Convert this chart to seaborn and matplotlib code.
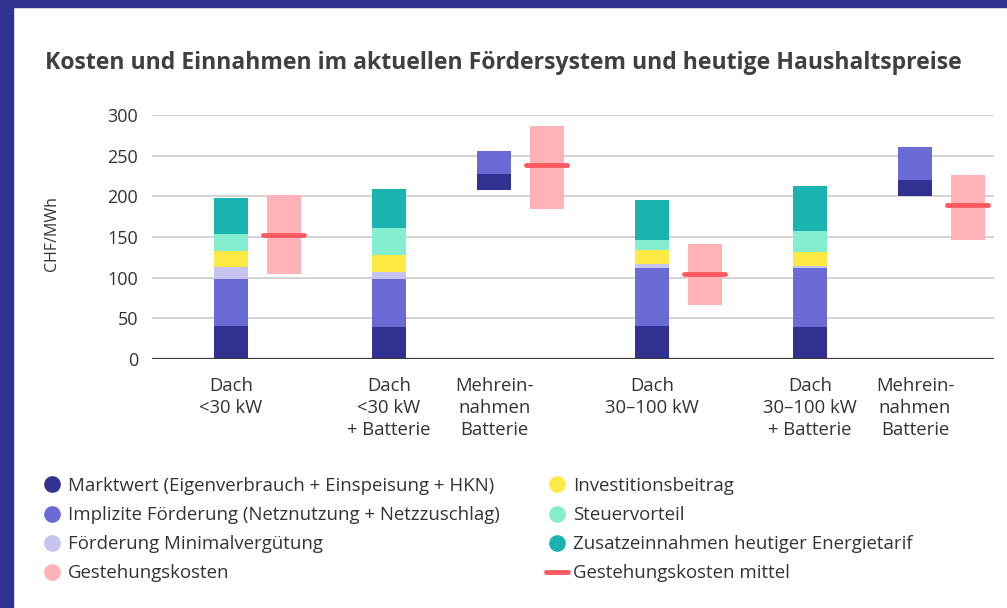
import numpy as np
import matplotlib
matplotlib.use("Agg")
import matplotlib.pyplot as plt
from matplotlib.lines import Line2D
from matplotlib.patches import Rectangle
import seaborn as sns

# Kategorien (x-Achse)
CATEGORIES = ["Dach\n<30 kW", "Dach\n<30 kW\n+ Batterie", "Mehrein-\nnahmen\nBatterie",
              "Dach\n30–100 kW", "Dach\n30–100 kW\n+ Batterie", "Mehrein-\nnahmen\nBatterie"]

# Einnahmen, gestapelt (CHF/MWh)
base = [0, 0, 208, 0, 0, 200]
marktwert = [41, 39, 19.5, 41, 39, 20]
implizit = [57.5, 59, 28, 71, 72.5, 40.5]
minimal = [15, 8.5, 0, 5, 2.5, 0]
invest = [19.5, 21, 0, 17, 17.5, 0]
steuer = [21, 33, 0, 12, 26, 0]
zusatz = [44, 48, 0, 49, 55, 0]

# Gestehungskosten (nur neben Kategorien 0, 2, 3, 5)
gest_cat = [0, 2, 3, 5]
gest_min = [104, 185, 66, 146]
gest_max = [202, 287, 141, 226]
gest_mean = [153, 238, 104, 189]

LAYERS = [
    ("Marktwert (Eigenverbrauch + Einspeisung + HKN)", marktwert, "#313192"),
    ("Implizite Förderung (Netznutzung + Netzzuschlag)", implizit, "#6b6bd6"),
    ("Förderung Minimalvergütung", minimal, "#c6c4ee"),
    ("Investitionsbeitrag", invest, "#ffea45"),
    ("Steuervorteil", steuer, "#84eecf"),
    ("Zusatzeinnahmen heutiger Energietarif", zusatz, "#1bb3b0"),
]
GEST_COLOR = "#ffb3b7"
MEAN_COLOR = "#ff5a62"
BORDER = "#313192"
TEXT = "#333333"

# Layout: Slots auf der kategorialen Achse
stack_pos = [0, 3, 5, 8, 11, 13]
gest_pos = [stack_pos[i] + 1 for i in gest_cat]
slots = [str(i) for i in range(15)]
BAR_W = 0.645

sns.set_theme(style="whitegrid")
plt.rcParams['font.family'] = ['Open Sans', 'DejaVu Sans']

fig = plt.figure(figsize=(10.07, 6.08), dpi=100)
ax = fig.add_axes([152 / 1007, 1 - 359 / 608, (994 - 152) / 1007, (359 - 115) / 608])

bottom = np.array(base, dtype=float)
for label, vals, color in LAYERS:
    sns.barplot(x=[str(p) for p in stack_pos], y=vals, bottom=bottom.copy(), order=slots,
                color=color, saturation=1, width=BAR_W, errorbar=None, linewidth=0, ax=ax)
    bottom = bottom + np.array(vals)

sns.barplot(x=[str(p) for p in gest_pos], y=np.array(gest_max) - np.array(gest_min),
            bottom=np.array(gest_min, dtype=float), order=slots, color=GEST_COLOR,
            saturation=1, width=BAR_W, errorbar=None, linewidth=0, ax=ax)

ax.hlines(gest_mean, np.array(gest_pos) - 0.39, np.array(gest_pos) + 0.39,
          color=MEAN_COLOR, lw=3.5, capstyle="round", zorder=5)

ax.set_xlim(-1.5, 14.5)
ax.set_ylim(0, 300)
ax.set_yticks(range(0, 301, 50))
ax.set_xticks(stack_pos)
ax.set_xticklabels(CATEGORIES, fontsize=13.3, color=TEXT, linespacing=1.3, va="top")
ax.tick_params(axis="y", labelsize=13, labelcolor=TEXT, pad=10, length=0)
ax.tick_params(axis="x", pad=13, length=0)
ax.set_xlabel("")
ax.set_ylabel("")
ax.grid(axis="y", color="#d0d0d0", lw=1.3)
ax.grid(axis="x", visible=False)
ax.set_axisbelow(True)
for s in ax.spines.values():
    s.set_visible(False)
ax.axhline(0, color="#3a3a3a", lw=1.6, zorder=6)

fig.text(52 / 1007, 1 - 234 / 608, "CHF/MWh", rotation=90, ha="center", va="center",
         fontsize=11.5, color=TEXT)
fig.text(45 / 1007, 1 - 63 / 608, "Kosten und Einnahmen im aktuellen Fördersystem und heutige Haushaltspreise",
         fontsize=16.6, fontweight="bold", color="#404040", va="center", ha="left")

# Rahmen links und oben
fig.patches.append(Rectangle((0, 0), 13 / 1007, 1, transform=fig.transFigure, color=BORDER, zorder=10))
fig.patches.append(Rectangle((0, 1 - 7 / 608), 1, 7 / 608, transform=fig.transFigure, color=BORDER, zorder=10))

# Legende
def dot(c):
    return Line2D([], [], marker="o", ls="none", markersize=11, markerfacecolor=c, markeredgecolor=c)

handles = [dot(c) for _, _, c in LAYERS[:3]] + [dot(GEST_COLOR)] + \
          [dot(c) for _, _, c in LAYERS[3:]] + [Line2D([], [], color=MEAN_COLOR, lw=3.5, solid_capstyle="round")]
labels = [l for l, _, _ in LAYERS[:3]] + ["Gestehungskosten"] + \
         [l for l, _, _ in LAYERS[3:]] + ["Gestehungskosten mittel"]
fig.legend(handles, labels, loc="upper left", bbox_to_anchor=(41 / 1007, 1 - 477 / 608), ncol=2,
           frameon=False, fontsize=13.4, labelcolor=TEXT, handlelength=1.15, handletextpad=0.3,
           columnspacing=2.5, labelspacing=0.6, borderpad=0, borderaxespad=0)

fig.savefig("out.png", dpi=100)
